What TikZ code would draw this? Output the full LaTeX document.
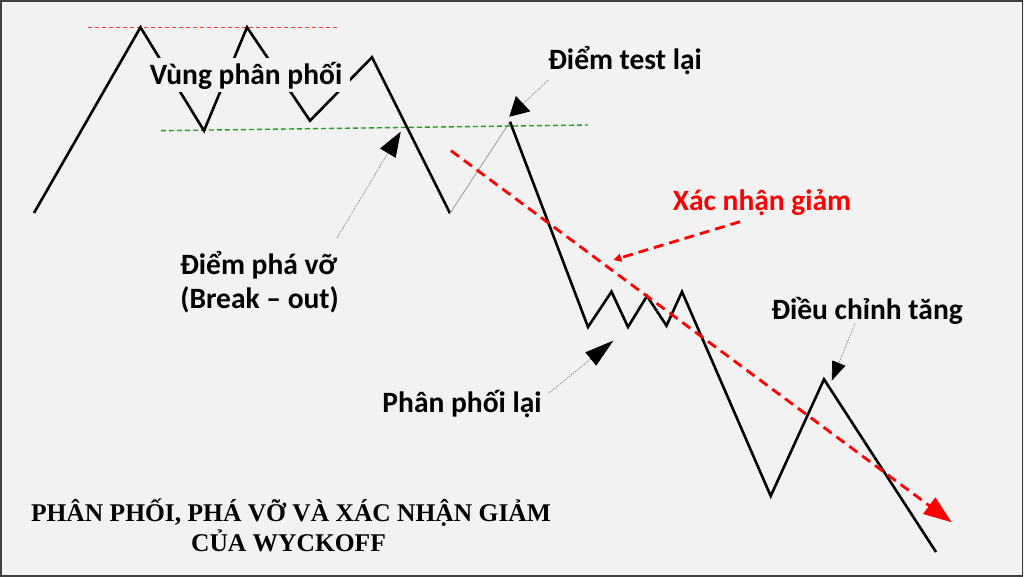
\documentclass[tikz,border=0pt]{standalone}
\usepackage{fontspec}
\setmainfont{Carlito}
\newfontfamily\titlefont{Liberation Serif}
\usetikzlibrary{arrows.meta}
\definecolor{bg}{HTML}{F2F2F2}
\definecolor{framec}{HTML}{404040}
\definecolor{trendred}{HTML}{FF0000}
\definecolor{topred}{HTML}{E83A3A}
\definecolor{supgreen}{HTML}{1FA01F}
\definecolor{thingray}{HTML}{9A9A9A}
\definecolor{dotgray}{HTML}{7A7A7A}
\begin{document}
\begin{tikzpicture}[x=1pt,y=-1pt,
  price/.style={line width=2.6pt, black, line join=miter},
  retest/.style={line width=0.8pt, thingray},
  callout/.style={line width=0.7pt, dotgray, dash pattern=on 1.2pt off 1.2pt},
  trend/.style={line width=2.8pt, trendred, dash pattern=on 10pt off 6pt},
  lbl/.style={font=\bfseries\fontsize{29.5}{34}\selectfont, anchor=base, inner sep=0pt},
  ttl/.style={font=\titlefont\bfseries\fontsize{25.5}{30}\selectfont, anchor=base, inner sep=0pt}
]
\fill[bg] (0,0) rectangle (1024,577);
\useasboundingbox (0,0) rectangle (1024,577);
\draw[framec, line width=1.5pt] (1,1) rectangle (1022.5,576);

% reference lines
\coordinate (ta) at (88,27.3);
\coordinate (tb) at (340,27.3);
\draw[topred, line width=0.9pt, dash pattern=on 4pt off 3pt] (ta) -- (tb);
\coordinate (ga) at (161,130.7);
\coordinate (gb) at (588,125);
\draw[supgreen, line width=1.4pt, dash pattern=on 5pt off 3pt] (ga) -- (gb);

% price path
\coordinate (p0) at (34,213);
\coordinate (p1) at (140.5,27.3);
\coordinate (p2) at (204,130.7);
\coordinate (p3) at (247,27.3);
\coordinate (p4) at (310,120.7);
\coordinate (p5) at (372,57.3);
\coordinate (p6) at (450,213.3);
\coordinate (p7) at (510,121.7);
\coordinate (p8) at (588,327);
\coordinate (p9) at (611.5,291.7);
\coordinate (p10) at (628,327);
\coordinate (p11) at (647,296);
\coordinate (p12) at (666.5,325.7);
\coordinate (p13) at (682,291.7);
\coordinate (p14) at (770.7,496);
\coordinate (p15) at (824,379.3);
\coordinate (p16) at (936,552);
\draw[price] (p0) -- (p1) -- (p2) -- (p3) -- (p4) -- (p5) -- (p6);
\draw[retest] (p6) -- (p7);
\draw[price] (p7) -- (p8) -- (p9) -- (p10) -- (p11) -- (p12) -- (p13) -- (p14) -- (p15) -- (p16);

% labels
\node[lbl, fill=bg, text height=27pt, text depth=7pt, inner xsep=8pt] (zone) at (246,85) {Vùng phân phối};
\node[lbl] (test) at (625,70) {Điểm test lại};
\node[lbl, text=trendred] (conf) at (762,210.7) {Xác nhận giảm};
\node[lbl] (brkA) at (258.5,274) {Điểm phá vỡ};
\node[lbl] (brkB) at (259.6,308) {(Break – out)};
\node[lbl] (redist) at (462,412) {Phân phối lại};
\node[lbl] (corr) at (867,319) {Điều chỉnh tăng};
\node[ttl] (title1) at (291,521.7) {PHÂN PHỐI, PHÁ VỠ VÀ XÁC NHẬN GIẢM};
\node[ttl] (title2) at (288.5,551.7) {CỦA WYCKOFF};

% trend arrow
\coordinate (r0) at (451,150.7);
\coordinate (r1) at (951.7,522.3);
\draw[trend, -{Triangle[length=28pt,width=20pt]}] (r0) -- (r1);
\coordinate (c0) at (740,221.7);
\coordinate (c1) at (613.3,260);
\draw[trend, -{Triangle[length=8pt,width=8pt]}] (c0) -- (c1);

% callouts
\coordinate (b0) at (337,238);
\coordinate (b1) at (400.7,131.7);
\draw[callout, -{Triangle[length=25pt,width=18pt,color=black]}] (b0) -- (b1);
\coordinate (s0) at (548.3,80);
\coordinate (s1) at (509.3,116.7);
\draw[callout, -{Triangle[length=19pt,width=21pt,color=black]}] (s0) -- (s1);
\coordinate (d0) at (548.6,393.3);
\coordinate (d1) at (613.3,340.7);
\draw[callout, -{Triangle[length=29pt,width=17pt,color=black]}] (d0) -- (d1);
\coordinate (e0) at (855,323.3);
\coordinate (e1) at (831.7,380.7);
\draw[callout, -{Triangle[length=19pt,width=14pt,color=black]}] (e0) -- (e1);
\end{tikzpicture}
\end{document}
